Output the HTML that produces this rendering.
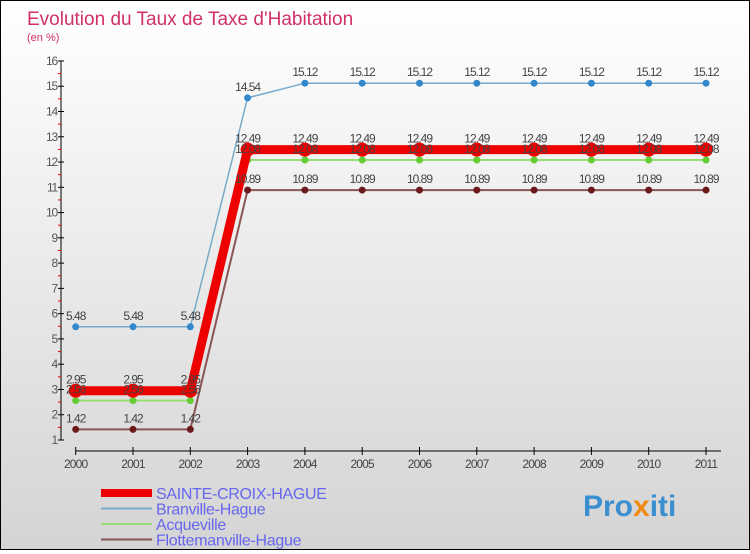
<!DOCTYPE html>
<html><head><meta charset="utf-8">
<style>
html,body{margin:0;padding:0;}
body{width:750px;height:550px;overflow:hidden;font-family:"Liberation Sans",sans-serif;}
#wrap{position:relative;width:748px;height:548px;border:1px solid #000;background:linear-gradient(#ffffff,#d4d4d4);}
</style></head>
<body>
<div id="wrap">
<svg id="chart" width="748" height="548">
<text x="26" y="24" font-size="19" fill="#d0306a">Evolution du Taux de Taxe d'Habitation</text>
<text x="26" y="40" font-size="11" fill="#d0306a">(en %)</text>
<g id="axes"></g>
<g id="series"></g>
<g id="labels"></g>
<g id="legend"></g>
<text x="582" y="515" font-size="30" font-weight="bold" fill="#3a8fd0">Pro<tspan fill="#f08a10">x</tspan>iti</text>
</svg>
</div>
<script>
const years=[2000,2001,2002,2003,2004,2005,2006,2007,2008,2009,2010,2011];
const yTicks=[1,2,3,4,5,6,7,8,9,10,11,12,13,14,15,16];
const sainte=[2.95,2.95,2.95,12.49,12.49,12.49,12.49,12.49,12.49,12.49,12.49,12.49];
const branville=[5.48,5.48,5.48,14.54,15.12,15.12,15.12,15.12,15.12,15.12,15.12,15.12];
const acqueville=[2.56,2.56,2.56,12.08,12.08,12.08,12.08,12.08,12.08,12.08,12.08,12.08];
const flotte=[1.42,1.42,1.42,10.89,10.89,10.89,10.89,10.89,10.89,10.89,10.89,10.89];
const names=["SAINTE-CROIX-HAGUE","Branville-Hague","Acqueville","Flottemanville-Hague"];
const NS="http://www.w3.org/2000/svg";
function X(i){return 74.7+i*57.3;}
function Y(v){return 439-(v-1)*25.27;}
function mk(tag,attrs,parent){const e=document.createElementNS(NS,tag);for(const k in attrs)e.setAttribute(k,attrs[k]);parent.appendChild(e);return e;}
const axes=document.getElementById('axes');
let a=mk('line',{x1:60,y1:Y(16),x2:60,y2:Y(1),stroke:'#000','stroke-width':1},axes);


yTicks.forEach(t=>{
  let l=mk('line',{x1:57,y1:Y(t),x2:63,y2:Y(t),stroke:'#000'},axes);
  
  
  if(t<16){let m=mk('line',{x1:57,y1:Y(t+0.5),x2:60,y2:Y(t+0.5),stroke:'#e00'},axes);
  
  }
  let tx=mk('text',{x:56,y:Y(t)+4,'font-size':12,fill:'#555','text-anchor':'end','letter-spacing':'-1.2'},axes);
  tx.textContent=t;
  
  
});
let xa=mk('line',{x1:X(0),y1:450,x2:X(11)+15,y2:450,stroke:'#000'},axes);


years.forEach((yv,i)=>{
  let l=mk('line',{x1:X(i),y1:446,x2:X(i),y2:454,stroke:'#000'},axes);
  
  
  let tx=mk('text',{x:X(i),y:467,'font-size':12,fill:'#444','text-anchor':'middle','letter-spacing':'-0.8'},axes);
  tx.textContent=yv;
  
  
});
const ser=document.getElementById('series');
const lab=document.getElementById('labels');
function draw(data,color,width,r,dot,name){
  const g=mk('g',{},ser);
  
  
  let p=mk('polyline',{points:data.map((v,i)=>X(i)+','+Y(v)).join(' '),fill:'none',stroke:color,'stroke-width':width},g);
  
  
  data.forEach((v,i)=>{
    let c=mk('circle',{cx:X(i),cy:Y(v),r:r,fill:dot},g);
    
    
    let t=mk('text',{x:X(i),y:Y(v)-7,'font-size':12,fill:'#444','text-anchor':'middle','letter-spacing':'-1'},lab);
    t.textContent=v;
    
    
  });
}
draw(flotte,'#8a5555',2,3.5,'#6a1a1a','flottemanville-series');
draw(acqueville,'#99dd77',2,3.5,'#66cc33','acqueville-series');
draw(branville,'#77aacc',1.5,3.5,'#3388cc','branville-series');
draw(sainte,'#ee0000',9,7,'#ee0000','sainte-croix-series');
const lg=document.getElementById('legend');
const lc=['#ee0000','#77aacc','#99dd77','#8a5555'],lw=[8,2,2,2];
names.forEach((n,i)=>{
  const y=492+i*15.5;
  let l=mk('line',{x1:100,y1:y,x2:151,y2:y,stroke:lc[i],'stroke-width':lw[i]},lg);
  
  
  let t=mk('text',{x:155,y:y+6,'font-size':16,fill:'#6666ee','letter-spacing':'-0.3'},lg);
  t.textContent=n;
  
  
});
</script>
</body></html>
